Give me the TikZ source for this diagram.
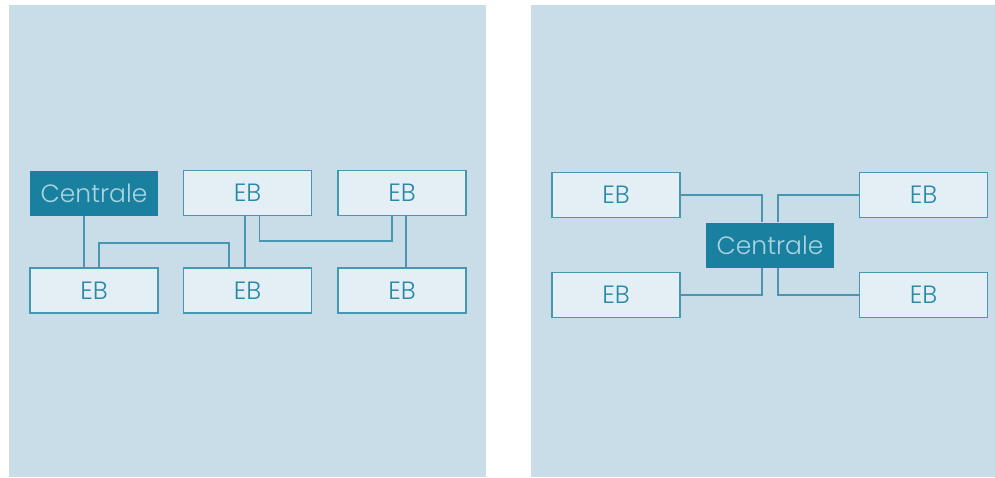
\documentclass[tikz,border=0pt]{standalone}
\usepackage{fontspec}
\setmainfont{Poppins}[UprightFont=* Light]
\usetikzlibrary{positioning}

% Colori del disegno
\definecolor{sfondo}{HTML}{C9DDE8}
\definecolor{riempimento}{HTML}{E4EFF5}
\definecolor{bordo}{HTML}{4797B3}
\definecolor{scuro}{HTML}{1A809F}
\definecolor{chiaro}{HTML}{A9D4E1}
\definecolor{testo}{HTML}{2A88A7}

\begin{document}
\begin{tikzpicture}[x=1pt, y=-1pt]

        % Area del disegno, in pixel dell'immagine
        \useasboundingbox (0,0) rectangle (995,477);

        % Stili per le scatole e le linee
        \tikzset{scatola/.style={draw=bordo, fill=riempimento, line width=1.3pt, text=testo,
                    minimum width=128pt, minimum height=45pt, inner sep=0pt,
                    font=\fontsize{25}{25}\selectfont},
                 centrale/.style={scatola, draw=none, fill=scuro, text=chiaro},
                 linea/.style={draw=bordo, line width=1.2pt}}

        % Pannelli di sfondo
        \fill[sfondo] (9,5) rectangle (486,477);
        \fill[sfondo] (531,5) rectangle (995,477);

        % Pannello sinistro - rete a catena
        \node[centrale] (cs) at (94,193) {Centrale};
        \node[scatola] (s2) at (247.5,193) {EB};
        \node[scatola] (s3) at (402,193) {EB};
        \node[scatola] (s4) at (94,290.5) {EB};
        \node[scatola] (s5) at (247.5,290.5) {EB};
        \node[scatola] (s6) at (402,290.5) {EB};

        \draw[linea] ([xshift=-10pt]cs.south) -- ([xshift=-10pt]cs.south |- s4.north);
        \draw[linea] ([xshift=5pt]s4.north) |- (229,243) -- (229,243 |- s5.north);
        \draw[linea] ([xshift=-2.5pt]s2.south) -- ([xshift=-2.5pt]s2.south |- s5.north);
        \draw[linea] ([xshift=12pt]s2.south) |- (392,241) -- (392,241 |- s3.south);
        \draw[linea] ([xshift=4pt]s3.south) -- ([xshift=4pt]s3.south |- s6.north);

        % Pannello destro - rete a stella
        \node[centrale] (cd) at (770,245) {Centrale};
        \node[scatola] (d1) at (616,195) {EB};
        \node[scatola] (d2) at (616,295) {EB};
        \node[scatola] (d3) at (923.5,195) {EB};
        \node[scatola] (d4) at (923.5,295) {EB};

        \draw[linea] (d1.east) -| ([xshift=-8pt]cd.north);
        \draw[linea] (d3.west) -| ([xshift=8pt]cd.north);
        \draw[linea] (d2.east) -| ([xshift=-8pt]cd.south);
        \draw[linea] (d4.west) -| ([xshift=8pt]cd.south);

\end{tikzpicture}
\end{document}
